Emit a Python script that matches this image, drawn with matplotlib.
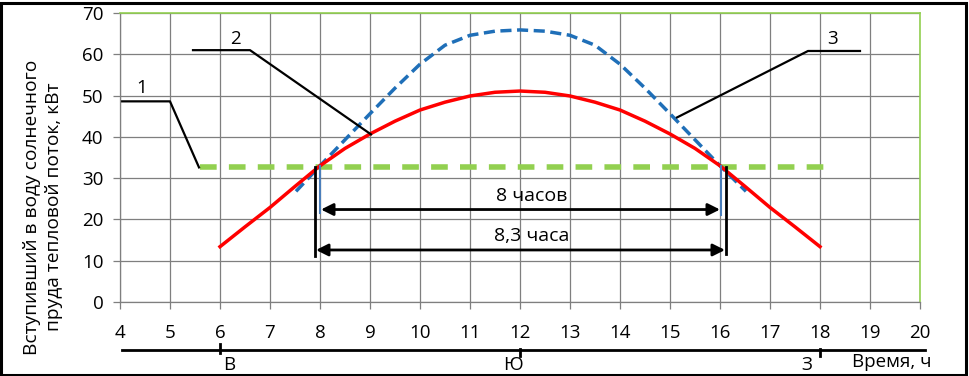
import matplotlib.pyplot as plt
from matplotlib.patches import Rectangle
from matplotlib.lines import Line2D

plt.rcParams['font.family'] = ['Open Sans', 'DejaVu Sans']

# red curve (solid)
red_x = [6, 6.5, 7, 7.5, 8, 8.5, 9, 9.5, 10, 10.5, 11, 11.5, 12,
         12.5, 13, 13.5, 14, 14.5, 15, 15.5, 16, 16.5, 17, 17.5, 18]
red_y = [13.4, 18.2, 22.9, 28.0, 33.0, 37.2, 40.7, 43.8, 46.5, 48.4, 49.9, 50.8, 51.1,
         50.8, 49.9, 48.4, 46.5, 43.8, 40.7, 37.2, 33.0, 28.0, 22.9, 18.2, 13.4]

# blue curve (dashed)
blue_x = [7.52, 8, 8.5, 9, 9.5, 10, 10.5, 11, 11.5, 12, 12.5, 13,
          13.5, 14, 14.5, 15, 15.5, 16, 16.52]
blue_y = [26.8, 33.0, 39.3, 45.6, 51.8, 57.6, 62.2, 64.6, 65.6, 65.9, 65.6, 64.6,
          62.2, 57.6, 51.8, 45.6, 39.3, 33.0, 26.8]

# green threshold line
green_x = [5.6, 18.27]
green_y = [32.6, 32.6]

xticks = list(range(4, 21))
yticks = list(range(0, 71, 10))

fs = 13.5

fig = plt.figure(figsize=(9.7, 3.76), dpi=100)
ax = fig.add_axes([120/970, 1-302/376, 800/970, 289/376])

ax.set_xlim(4, 20)
ax.set_ylim(0, 70)
ax.set_xticks(xticks)
ax.set_yticks(yticks)
ax.grid(True, color='#7f7f7f', lw=0.9)
ax.set_axisbelow(True)
ax.tick_params(axis='both', direction='out', length=5, color='#7f7f7f', width=0.9, labelsize=fs)
ax.tick_params(axis='x', pad=11)
ax.tick_params(axis='y', pad=7)
for s in ['left', 'bottom']:
    ax.spines[s].set_color('#7f7f7f')
    ax.spines[s].set_linewidth(0.9)
for s in ['top', 'right']:
    ax.spines[s].set_color('#92d050')
    ax.spines[s].set_linewidth(1.2)

ax.plot(green_x, green_y, color='#92d050', lw=4, dashes=(3, 2.2))
ax.plot(blue_x, blue_y, color='#1f6fb8', lw=2.5, dashes=(3.2, 1.6))
ax.plot(red_x, red_y, color='#ff0000', lw=2.5)

# vertical markers
ax.plot([7.9, 7.9], [32.6, 11.2], color='black', lw=2)
ax.plot([8.0, 8.0], [33, 21.6], color='#4a7ebb', lw=1.5)
ax.plot([16.02, 16.02], [33, 21.1], color='#4a7ebb', lw=1.5)
ax.plot([16.12, 16.12], [32.6, 11.6], color='black', lw=2)

# duration arrows
ax.annotate('', xy=(8.02, 22.4), xytext=(16.0, 22.4),
            arrowprops=dict(arrowstyle='<|-|>', color='black', lw=2, mutation_scale=18,
                            shrinkA=0, shrinkB=0))
ax.annotate('', xy=(7.92, 12.6), xytext=(16.1, 12.6),
            arrowprops=dict(arrowstyle='<|-|>', color='black', lw=2, mutation_scale=18,
                            shrinkA=0, shrinkB=0))
ax.text(12.24, 25.6, '8 часов', ha='center', va='center', fontsize=fs + 0.5)
ax.text(12.24, 15.9, '8,3 часа', ha='center', va='center', fontsize=fs + 0.5)

# callouts
ax.plot([4, 5, 5.58], [48.6, 48.6, 32.6], color='black', lw=1.6)
ax.text(4.44, 51.8, '1', ha='center', va='center', fontsize=fs)
ax.plot([5.46, 6.6, 9.02], [61, 61, 40.6], color='black', lw=1.6)
ax.text(6.3, 63.8, '2', ha='center', va='center', fontsize=fs)
ax.plot([15.14, 17.76, 18.8], [44.7, 60.8, 60.8], color='black', lw=1.6)
ax.text(18.25, 63.8, '3', ha='center', va='center', fontsize=fs)

# y label
fig.text(43/970, 1-207/376, 'Вступивший в воду солнечного\nпруда тепловой поток, кВт',
         rotation=90, ha='center', va='center', fontsize=fs + 0.3, linespacing=1.35)

# compass axis under x axis
ax_tr = ax.get_xaxis_transform()
yb = (302-350)/289
ax.add_line(Line2D([4.04, 20.1], [yb, yb], transform=ax_tr, color='black', lw=2, clip_on=False))
ax.add_line(Line2D([6, 6], [yb + 0.02, yb - 0.01], transform=ax_tr, color='black', lw=2,
                   clip_on=False))
for xv in [12, 18]:
    ax.add_line(Line2D([xv, xv], [yb + 0.005, yb - 0.02], transform=ax_tr, color='black', lw=2,
                       clip_on=False))
ylab = (302-365)/289
ax.text(6.18, ylab, 'В', transform=ax_tr, ha='center', va='center', fontsize=fs)
ax.text(11.86, ylab, 'Ю', transform=ax_tr, ha='center', va='center', fontsize=fs)
ax.text(17.74, ylab, 'З', transform=ax_tr, ha='center', va='center', fontsize=fs)
ax.text(18.64, (302-362)/289, 'Время, ч', transform=ax_tr, ha='left', va='center', fontsize=fs)

# outer frame
fig.add_artist(Rectangle((1.5/970, 1.5/376), 965/970, 372/376, transform=fig.transFigure,
                         fill=False, edgecolor='black', lw=2.2))

fig.savefig('out.png', dpi=100)
